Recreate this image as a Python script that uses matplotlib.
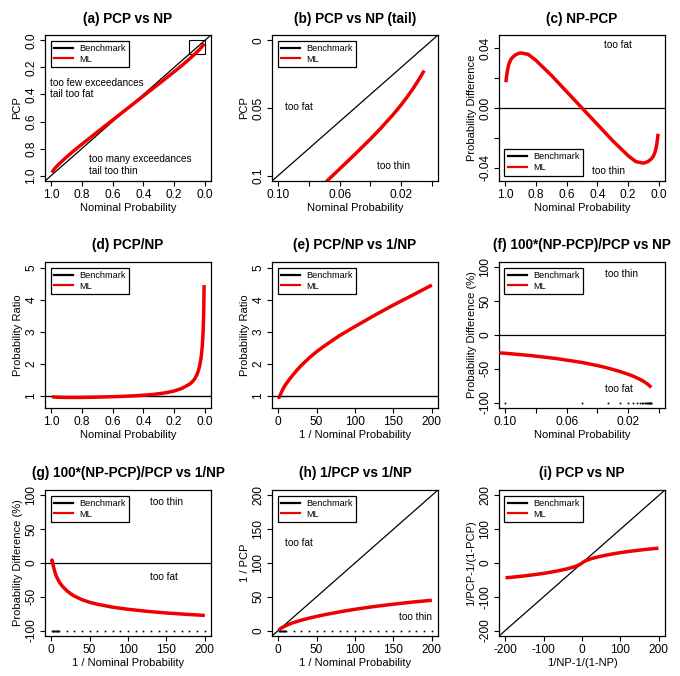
import numpy as np
import matplotlib
matplotlib.use('Agg')
import matplotlib.pyplot as plt
from matplotlib.patches import Rectangle

plt.rcParams['font.family'] = ['Liberation Sans', 'DejaVu Sans']
plt.rcParams['axes.unicode_minus'] = False

# nominal probability and the PCP
nominal = np.array([0.005, 0.005714, 0.006667, 0.008, 0.01, 0.0125, 0.016667, 0.02,
                    0.025, 0.033333, 0.04, 0.05, 0.066667, 0.083333, 0.1, 0.15, 0.2,
                    0.25, 0.3, 0.35, 0.4, 0.45, 0.5, 0.55, 0.6, 0.65, 0.7, 0.75, 0.8,
                    0.85, 0.9, 0.916667, 0.933333, 0.95, 0.96, 0.966667, 0.975, 0.98,
                    0.983333, 0.9875, 0.99, 0.992, 0.993333, 0.994286, 0.995])
pcp = np.array([0.0223, 0.0237, 0.0256, 0.0281, 0.0317, 0.0361, 0.0427, 0.0477,
                0.0546, 0.0651, 0.0730, 0.0842, 0.1023, 0.1198, 0.1370, 0.1860, 0.2320,
                0.2770, 0.3220, 0.3665, 0.4110, 0.4555, 0.5000, 0.5445, 0.5890, 0.6335,
                0.6780, 0.7230, 0.7680, 0.8140, 0.8630, 0.8802, 0.8977, 0.9158, 0.9270,
                0.9349, 0.9454, 0.9523, 0.9573, 0.9639, 0.9683, 0.9719, 0.9744, 0.9763,
                0.9777])
# benchmark points drawn as dots (1/NP values)
bench_inv = np.array([1, 2, 3, 4, 5, 6, 7, 8, 9, 10, 20, 30, 40, 50, 60, 70, 80, 90, 100,
                      110, 120, 130, 140, 150, 160, 170, 180, 190, 200])

titles = ['(a) PCP vs NP', '(b) PCP vs NP (tail)', '(c) NP-PCP', '(d) PCP/NP',
          '(e) PCP/NP vs 1/NP', '(f) 100*(NP-PCP)/PCP vs NP',
          '(g) 100*(NP-PCP)/PCP vs 1/NP', '(h) 1/PCP vs 1/NP', '(i) PCP vs NP']
xlabels = ['Nominal Probability'] * 4 + ['1 / Nominal Probability', 'Nominal Probability',
           '1 / Nominal Probability', '1 / Nominal Probability', '1/NP-1/(1-NP)']
ylabels = ['PCP', 'PCP', 'Probability Difference', 'Probability Ratio', 'Probability Ratio',
           'Probability Difference (%)', 'Probability Difference (%)', '1 / PCP',
           '1/PCP-1/(1-PCP)']

RED = '#ee0000'
W, H = 680, 676
lefts = [45, 272, 499]
tops = [35, 262, 490]
pw, ph = 166, 146

fig = plt.figure(figsize=(W / 100, H / 100), dpi=100)


def pad(lo, hi):
    d = (hi - lo) * 0.04
    return lo - d, hi + d


def make_axes(i):
    r, c = divmod(i, 3)
    ax = fig.add_axes([lefts[c] / W, 1 - (tops[r] + ph) / H, pw / W, ph / H])
    ax.set_title(titles[i], fontsize=9.8, fontweight='bold', pad=9)
    ax.set_xlabel(xlabels[i], fontsize=8, labelpad=2)
    ax.set_ylabel(ylabels[i], fontsize=8, labelpad=2)
    ax.tick_params(direction='out', length=3.5, width=0.8, labelsize=8.6, pad=2)
    ax.tick_params(axis='y', labelrotation=90)
    for s in ax.spines.values():
        s.set_linewidth(0.9)
    return ax


def finish(ax, loc='upper left'):
    for lab in ax.get_yticklabels():
        lab.set_va('center')
    h1, = ax.plot([], [], color='black', lw=1.6)
    h2, = ax.plot([], [], color=RED, lw=1.6)
    leg = ax.legend([h1, h2], ['Benchmark', 'ML'], loc=loc, fontsize=6.6,
                    fancybox=False, framealpha=1, edgecolor='black',
                    handlelength=2.1, borderaxespad=0.6, borderpad=0.4,
                    labelspacing=0.15, handletextpad=0.6)
    leg.get_frame().set_linewidth(0.9)
    leg.set_zorder(5)


def ml(ax, x, y):
    ax.plot(x, y, color=RED, lw=2.5, solid_capstyle='butt', zorder=3)


note = dict(fontsize=7.2)
np_ticks = [1.0, 0.8, 0.6, 0.4, 0.2, 0.0]
np_labels = ['1.0', '0.8', '0.6', '0.4', '0.2', '0.0']
tail_ticks = [0.10, 0.08, 0.06, 0.04, 0.02, 0.0]
tail_labels = ['0.10', '', '0.06', '', '0.02', '']
inv = 1 / nominal
ratio = pcp / nominal
pct = 100 * (nominal - pcp) / pcp

# (a)
ax = make_axes(0)
ax.set_xlim(pad(0, 1)[::-1])
ax.set_ylim(pad(0, 1)[::-1])
ax.axline((0, 0), slope=1, color='black', lw=0.9)
ax.add_patch(Rectangle((0, 0), 0.1, 0.1, fill=False, ec='black', lw=0.8))
ml(ax, nominal, pcp)
ax.set_xticks(np_ticks, np_labels)
ax.set_yticks(np_ticks[::-1], np_labels[::-1])
ax.text(1.01, 0.355, 'too few exceedances\ntail too fat', ha='left', va='center', **note)
ax.text(0.755, 0.92, 'too many exceedances\ntail too thin', ha='left', va='center', **note)
finish(ax)

# (b)
ax = make_axes(1)
ax.set_xlim(pad(0, 0.1)[::-1])
ax.set_ylim(pad(0, 0.1)[::-1])
ax.axline((0, 0), slope=1, color='black', lw=0.9)
ml(ax, nominal, pcp)
ax.set_xticks(tail_ticks, tail_labels)
ax.set_yticks([0, 0.05, 0.1], ['0', '0.05', '0.1'])
ax.text(0.0867, 0.049, 'too fat', ha='center', va='center', **note)
ax.text(0.0252, 0.0928, 'too thin', ha='center', va='center', **note)
finish(ax)

# (c)
ax = make_axes(2)
ax.set_xlim(pad(0, 1)[::-1])
ax.set_ylim(-0.049, 0.049)
ax.axhline(0, color='black', lw=0.9)
ml(ax, nominal, nominal - pcp)
ax.set_xticks(np_ticks, np_labels)
ax.set_yticks([-0.04, -0.02, 0, 0.02, 0.04], ['-0.04', '', '0.00', '', '0.04'])
ax.text(0.268, 0.0423, 'too fat', ha='center', va='center', **note)
ax.text(0.325, -0.0423, 'too thin', ha='center', va='center', **note)
finish(ax, 'lower left')

# (d)
ax = make_axes(3)
ax.set_xlim(pad(0, 1)[::-1])
ax.set_ylim(0.63, 5.18)
ax.axhline(1, color='black', lw=1.0)
ml(ax, nominal, ratio)
ax.set_xticks(np_ticks, np_labels)
ax.set_yticks([1, 2, 3, 4, 5])
finish(ax)

# (e)
ax = make_axes(4)
ax.set_xlim(pad(0, 200))
ax.set_ylim(0.63, 5.18)
ax.axhline(1, color='black', lw=1.0)
ml(ax, inv, ratio)
ax.set_xticks([0, 50, 100, 150, 200])
ax.set_yticks([1, 2, 3, 4, 5])
finish(ax)

# (f)
ax = make_axes(5)
ax.set_xlim(pad(0, 0.1)[::-1])
ax.set_ylim(pad(-100, 100))
ax.axhline(0, color='black', lw=0.9)
ax.plot(1 / bench_inv, np.full(len(bench_inv), -100), 's', color='black', ms=1.2, mew=0)
ml(ax, nominal, pct)
ax.set_xticks(tail_ticks, tail_labels)
ax.set_yticks([-100, -50, 0, 50, 100])
ax.text(0.0241, 90.5, 'too thin', ha='center', va='center', **note)
ax.text(0.0261, -80.6, 'too fat', ha='center', va='center', **note)
finish(ax)

# (g)
ax = make_axes(6)
ax.set_xlim(pad(0, 200))
ax.set_ylim(pad(-100, 100))
ax.axhline(0, color='black', lw=0.9)
ax.plot(bench_inv, np.full(len(bench_inv), -100), 's', color='black', ms=1.2, mew=0)
ml(ax, inv, pct)
ax.set_xticks([0, 50, 100, 150, 200])
ax.set_yticks([-100, -50, 0, 50, 100])
ax.text(150, 89.6, 'too thin', ha='center', va='center', **note)
ax.text(147, -20.3, 'too fat', ha='center', va='center', **note)
finish(ax)

# (h)
ax = make_axes(7)
ax.set_xlim(pad(0, 200))
ax.set_ylim(pad(0, 200))
ax.axline((0, 0), slope=1, color='black', lw=0.9)
ax.plot(bench_inv, np.zeros(len(bench_inv)), 's', color='black', ms=1.2, mew=0)
ml(ax, inv, 1 / pcp)
ax.set_xticks([0, 50, 100, 150, 200])
ax.set_yticks([0, 50, 100, 150, 200])
ax.text(27, 129, 'too fat', ha='center', va='center', **note)
ax.text(179, 20.6, 'too thin', ha='center', va='center', **note)
finish(ax)

# (i)
ax = make_axes(8)
ax.set_xlim(pad(-200, 200))
ax.set_ylim(pad(-200, 200))
ax.axline((0, 0), slope=1, color='black', lw=0.9)
ml(ax, 1 / nominal - 1 / (1 - nominal), 1 / pcp - 1 / (1 - pcp))
ax.set_xticks([-200, -100, 0, 100, 200])
ax.set_yticks([-200, -100, 0, 100, 200])
finish(ax)

fig.savefig('out.png', dpi=100)
